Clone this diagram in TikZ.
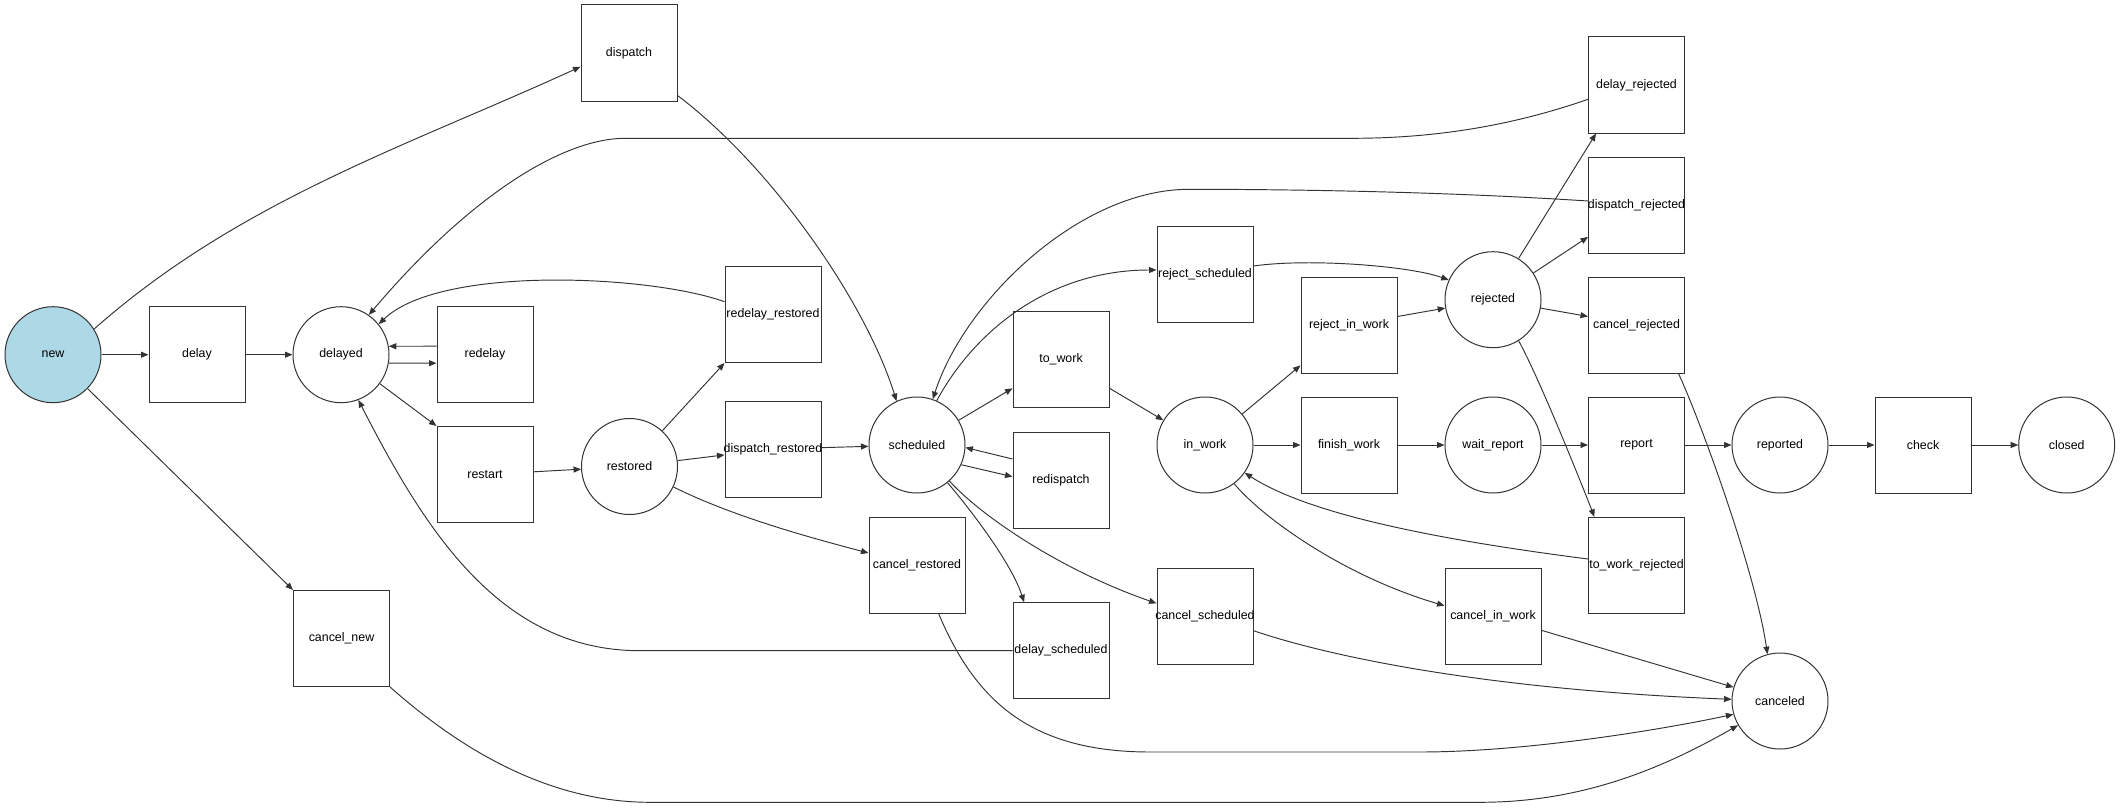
\documentclass[tikz,border=0pt]{standalone}
\usepackage{fontspec}
\setmainfont{Liberation Sans}
\usetikzlibrary{arrows.meta,calc}
\definecolor{lc}{HTML}{333333}
\definecolor{newblue}{HTML}{ADD8E6}
\newcommand{\tx}[1]{\makebox[0pt]{#1}}
\begin{document}
\begin{tikzpicture}[x=1pt,y=-1pt,
  stnode/.style={circle,draw=lc,line width=1pt,minimum size=96pt,inner sep=0pt,font=\fontsize{12.4}{14}\selectfont},
  trnode/.style={rectangle,draw=lc,line width=1pt,minimum width=96pt,minimum height=96pt,inner sep=0pt,font=\fontsize{12.4}{14}\selectfont},
  edgeline/.style={draw=lc,line width=0.95pt,-{Triangle[length=7.5pt,width=6pt]}}]
\useasboundingbox (0,0) rectangle (2123,808);
% nodes
\node[stnode,fill=newblue] (new) at (53,354.7) {\tx{new}};
\node[trnode] (delay) at (197,354.7) {\tx{delay}};
\node[stnode] (delayed) at (341,354.7) {\tx{delayed}};
\node[trnode] (redelay) at (485,354.7) {\tx{redelay}};
\node[trnode] (dispatch) at (629,53) {\tx{dispatch}};
\node[trnode] (restart) at (485,474.5) {\tx{restart}};
\node[stnode] (restored) at (629.5,466.5) {\tx{restored}};
\node[trnode] (cancelnew) at (341.5,638.5) {\tx{cancel\_new}};
\node[trnode] (redelayrestored) at (773,314.5) {\tx{redelay\_restored}};
\node[trnode] (dispatchrestored) at (773,449) {\tx{dispatch\_restored}};
\node[stnode] (scheduled) at (917,445) {\tx{scheduled}};
\node[trnode] (cancelrestored) at (917,565.3) {\tx{cancel\_restored}};
\node[trnode] (towork) at (1061,359.5) {\tx{to\_work}};
\node[trnode] (redispatch) at (1061,480) {\tx{redispatch}};
\node[trnode] (delayscheduled) at (1061,650.7) {\tx{delay\_scheduled}};
\node[trnode] (rejectscheduled) at (1205,274.7) {\tx{reject\_scheduled}};
\node[stnode] (inwork) at (1205,445) {\tx{in\_work}};
\node[trnode] (cancelscheduled) at (1205,616) {\tx{cancel\_scheduled}};
\node[trnode] (rejectinwork) at (1349,325) {\tx{reject\_in\_work}};
\node[trnode] (finishwork) at (1349,445) {\tx{finish\_work}};
\node[stnode] (rejected) at (1493,299.7) {\tx{rejected}};
\node[stnode] (waitreport) at (1493,445) {\tx{wait\_report}};
\node[trnode] (cancelinwork) at (1493,616) {\tx{cancel\_in\_work}};
\node[trnode] (delayrejected) at (1636.5,85) {\tx{delay\_rejected}};
\node[trnode] (dispatchrejected) at (1636.5,205) {\tx{dispatch\_rejected}};
\node[trnode] (cancelrejected) at (1636.5,325) {\tx{cancel\_rejected}};
\node[trnode] (report) at (1636.5,445) {\tx{report}};
\node[trnode] (toworkrejected) at (1636.5,565.3) {\tx{to\_work\_rejected}};
\node[stnode] (reported) at (1780,445) {\tx{reported}};
\node[stnode] (canceled) at (1780,701) {\tx{canceled}};
\node[trnode] (check) at (1923,445) {\tx{check}};
\node[stnode] (closed) at (2066.7,445) {\tx{closed}};
% edges
\draw[edgeline] (new) -- (delay);
\draw[edgeline] (delay) -- (delayed);
\draw[edgeline] (new.32) .. controls (240,200) and (410,145) .. ($(dispatch.west)+(0,13.7)$);
\draw[edgeline] (new) -- (cancelnew.north west);
\draw[edgeline] (delayed.-10) -- ($(redelay.west)+(0,8.5)$);
\draw[edgeline] ($(redelay.west)+(0,-8.5)$) -- (delayed.10);
\draw[edgeline] (delayed) -- (restart.north west);
\draw[edgeline] (restart) -- (restored);
\draw[edgeline] (restored) -- (redelayrestored.south west);
\draw[edgeline] (restored) -- (dispatchrestored);
\draw[edgeline] (restored.-25) .. controls (730,515) and (800,535) .. ($(cancelrestored.west)+(0,-12.3)$);
\draw[edgeline] ($(redelayrestored.west)+(0,-12.8)$) .. controls (650,275) and (440,265) .. (delayed.39);
\draw[edgeline] ($(dispatch.south east)+(0,-6)$) .. controls (770,165) and (865,300) .. (scheduled.115);
\draw[edgeline] (dispatchrestored) -- (scheduled);
\draw[edgeline] ($(delayrejected.west)+(0,14.3)$) .. controls (1500,130) and (1420,138.3) .. (1352,138.3) -- (625,138.3) .. controls (565,138.3) and (472.6,192.5) .. (delayed.55);
\draw[edgeline] ($(dispatchrejected.west)+(0,-4)$) .. controls (1450,192) and (1300,189.3) .. (1189,189.3) .. controls (1080,189.3) and (965,300) .. (scheduled.71);
\draw[edgeline] (scheduled.66) .. controls (975,330) and (1050,270) .. ($(rejectscheduled.west)+(0,-4.7)$);
\draw[edgeline] (scheduled) -- (towork);
\draw[edgeline] ($(redispatch.west)+(0,-21)$) -- (scheduled.-3);
\draw[edgeline] (scheduled.-24) -- ($(redispatch.west)+(0,-3.3)$);
\draw[edgeline] (scheduled.-51) .. controls (975,515) and (1012,565) .. ($(delayscheduled.north west)+(11.6,0)$);
\draw[edgeline] (scheduled.-48) .. controls (980,515) and (1060,570) .. ($(cancelscheduled.west)+(0,-12.7)$);
\draw[edgeline] (delayscheduled.west) -- (640,650.7) .. controls (500,650.7) and (425,530) .. (delayed.-69);
\draw[edgeline] (towork) -- (inwork);
\draw[edgeline] ($(rejectscheduled.east)+(0,-8.7)$) .. controls (1310,258) and (1410,266) .. (rejected.156);
\draw[edgeline] (inwork) -- (rejectinwork);
\draw[edgeline] (inwork) -- (finishwork);
\draw[edgeline] (inwork.-53) .. controls (1260,515) and (1340,575) .. ($(cancelinwork.west)+(0,-10.3)$);
\draw[edgeline] (rejectinwork) -- (rejected);
\draw[edgeline] (finishwork) -- (waitreport);
\draw[edgeline] (waitreport) -- (report);
\draw[edgeline] (report) -- (reported);
\draw[edgeline] (reported) -- (check);
\draw[edgeline] (check) -- (closed);
\draw[edgeline] (rejected) -- ($(delayrejected.south west)+(8,0)$);
\draw[edgeline] (rejected) -- (dispatchrejected);
\draw[edgeline] (rejected) -- (cancelrejected);
\draw[edgeline] (rejected.-58) .. controls (1540,380) and (1580,480) .. ($(toworkrejected.north west)+(6.4,0)$);
\draw[edgeline] ($(toworkrejected.west)+(0,-6.3)$) .. controls (1440,540) and (1310,515) .. (inwork.-35);
\draw[edgeline] ($(cancelrejected.south east)+(-6.5,0)$) .. controls (1700,420) and (1755,570) .. (canceled.105);
\draw[edgeline] (cancelinwork) -- (canceled);
\draw[edgeline] ($(cancelscheduled.east)+(0,14.7)$) .. controls (1340,660) and (1500,690) .. (canceled.178);
\draw[edgeline] ($(cancelrestored.south)+(21.7,0)$) .. controls (975,700) and (1030,752) .. (1150,752) -- (1420,752) .. controls (1520,752) and (1650,732) .. (canceled.196);
\draw[edgeline] (cancelnew.south east) .. controls (450,740) and (540,802.3) .. (650,802.3) -- (1480,802.3) .. controls (1580,802.3) and (1660,770) .. (canceled.210);
\end{tikzpicture}
\end{document}
